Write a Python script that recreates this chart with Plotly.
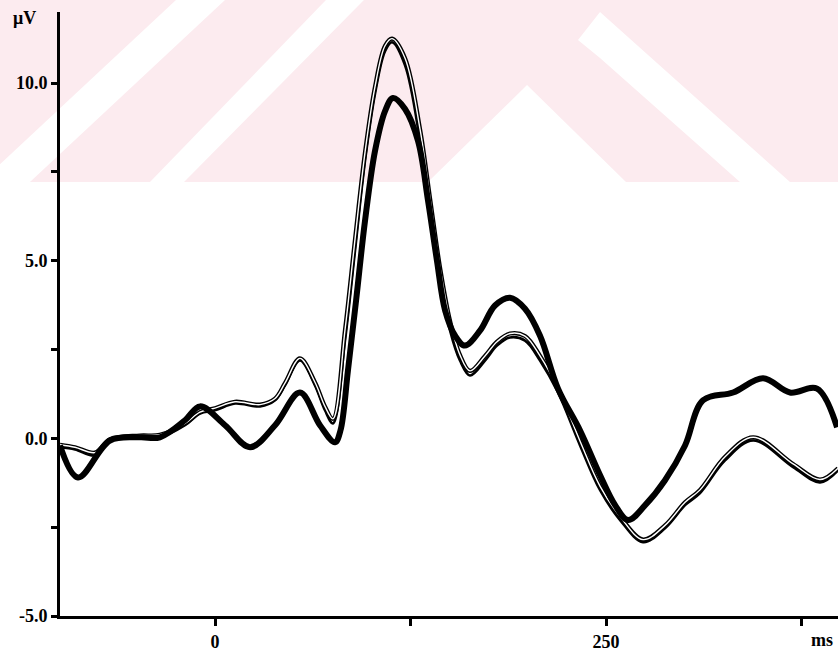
import plotly.graph_objects as go

# ---- data (time in ms, amplitude in microvolts) ----
a_ms = [-99.1, -87.6, -67.1, -48.0, -35.2, -19.2, -9.6, 6.4, 22.4, 38.4, 54.3, 67.1, 76.7,
        80.2, 85.0, 90.2, 95.9, 102.3, 108.7, 113.8, 121.5, 129.8, 136.2, 141.9, 147.1,
        153.5, 159.8, 169.4, 179.0, 188.6, 198.2, 207.8, 219.3, 233.4, 246.2, 255.8,
        264.1, 275.0, 287.7, 300.5, 312.0, 331.2, 350.4, 367.6, 384.9, 397.7]
a_uv = [-0.20, -1.10, -0.06, 0.03, 0.03, 0.51, 0.90, 0.37, -0.25, 0.37, 1.29, 0.37, -0.11,
        0.22, 1.91, 3.88, 6.12, 8.09, 9.21, 9.58, 9.27, 8.37, 6.69, 5.00, 3.60,
        2.89, 2.61, 3.03, 3.74, 3.96, 3.65, 2.89, 1.40, 0.22, -1.04, -1.88,
        -2.30, -1.88, -1.18, -0.20, 1.07, 1.29, 1.69, 1.29, 1.40, 0.31]

b_ms = [-99.1, -89.5, -76.7, -67.1, -48.0, -35.2, -19.2, -9.6, 0.0, 12.8, 28.8, 38.4, 44.8,
        54.3, 63.9, 70.3, 75.4, 83.1, 89.5, 95.9, 102.3, 108.7, 113.2, 121.5, 131.1, 137.5,
        143.9, 150.3, 156.6, 163.0, 172.6, 180.3, 188.6, 198.2, 207.8, 219.3, 233.4, 246.2,
        259.0, 273.7, 287.7, 300.5, 310.1, 326.1, 344.1, 369.6, 386.8, 398.3]
b_uv = [-0.25, -0.31, -0.48, -0.06, 0.03, 0.03, 0.37, 0.70, 0.79, 0.98, 0.90, 1.07, 1.49,
        2.19, 1.49, 0.79, 0.42, 2.75, 5.28, 7.81, 9.70, 10.90, 11.15, 10.50, 8.37, 6.40,
        4.44, 3.03, 2.19, 1.77, 2.19, 2.61, 2.84, 2.75, 2.19, 1.29, -0.20, -1.46,
        -2.30, -2.92, -2.53, -1.88, -1.54, -0.62, -0.06, -0.81, -1.24, -0.90]

c_ms = b_ms
c_uv = [-0.18, -0.25, -0.40, -0.02, 0.08, 0.10, 0.42, 0.74, 0.85, 1.03, 0.95, 1.12, 1.56,
        2.25, 1.58, 0.90, 0.55, 3.05, 5.60, 8.05, 9.90, 11.05, 11.25, 10.70, 8.70, 6.75,
        4.80, 3.30, 2.35, 1.90, 2.32, 2.72, 2.95, 2.88, 2.32, 1.40, -0.08, -1.35,
        -2.20, -2.85, -2.45, -1.80, -1.45, -0.52, 0.03, -0.72, -1.16, -0.84]

y_ticks = [-5.0, -2.5, 0.0, 2.5, 5.0, 7.5, 10.0]
y_labels = ["-5.0", "", "0.0", "", "5.0", "", "10.0"]
x_ticks = [0, 125, 250, 375]
x_labels = ["0", "", "250", ""]

W, H = 838, 651
L, R, T, B = 60, 0, 12, 35

fig = go.Figure()
fig.add_trace(go.Scatter(x=b_ms, y=b_uv, mode="lines",
                         line=dict(color="black", width=2.6, shape="spline", smoothing=1.0),
                         hoverinfo="skip"))
fig.add_trace(go.Scatter(x=c_ms, y=c_uv, mode="lines",
                         line=dict(color="black", width=4.2, shape="spline", smoothing=1.0),
                         hoverinfo="skip"))
fig.add_trace(go.Scatter(x=c_ms, y=c_uv, mode="lines",
                         line=dict(color="white", width=1.4, shape="spline", smoothing=1.0),
                         hoverinfo="skip"))
fig.add_trace(go.Scatter(x=a_ms, y=a_uv, mode="lines",
                         line=dict(color="black", width=6, shape="spline", smoothing=1.0),
                         hoverinfo="skip"))

# ---- faint watermark in the top band (pixel coords -> paper coords) ----
def pp(px, py):
    return (px - L) / (W - L - R), (H - B - py) / (H - T - B)

def poly(points, color):
    d = ""
    for i, (px, py) in enumerate(points):
        x, y = pp(px, py)
        d += ("M" if i == 0 else "L") + f"{x:.4f},{y:.4f} "
    return dict(type="path", xref="paper", yref="paper", path=d + "Z",
                fillcolor=color, line=dict(width=0), layer="below")

pink = "#fcebef"
shapes = [poly([(-80, 0), (900, 0), (900, 182), (-80, 182)], pink)]
white_polys = [
    [(176, 0), (225, 0), (30, 182), (-19, 182)],
    [(326, 0), (364, 0), (184, 182), (150, 182)],
    [(527, 85), (626, 182), (428, 182)],
    [(600, 12), (790, 182), (740, 182), (600, 58), (578, 40)],
]
for wp in white_polys:
    shapes.append(poly(wp, "white"))

serif = dict(family="Liberation Serif", size=18, color="black", weight="bold")

fig.update_layout(
    width=W, height=H,
    margin=dict(l=L, r=R, t=T, b=B),
    paper_bgcolor="white", plot_bgcolor="rgba(0,0,0,0)",
    showlegend=False,
    shapes=shapes,
    xaxis=dict(range=[-99.1, 398.3], tickvals=x_ticks, ticktext=x_labels,
               showgrid=False, zeroline=False, showline=True, linecolor="black",
               linewidth=3, ticks="outside", ticklen=7, tickwidth=3, tickcolor="black",
               tickfont=serif),
    yaxis=dict(range=[-5.0, 12.0], tickvals=y_ticks, ticktext=y_labels,
               showgrid=False, zeroline=False, showline=True, linecolor="black",
               linewidth=3, ticks="outside", ticklen=6, tickwidth=3, tickcolor="black",
               tickfont=serif),
    annotations=[
        dict(text="μV", xref="paper", yref="paper", x=-0.045, y=0.990, xanchor="center",
             yanchor="middle", showarrow=False, font=serif),
        dict(text="ms", xref="x", yref="paper", x=388, y=0, xanchor="center",
             yanchor="top", showarrow=False, font=serif, yshift=-12),
    ],
)

fig.write_html("out.html", config={"displayModeBar": False},
               post_script="document.body.style.margin='0';document.body.style.overflow='hidden';")
